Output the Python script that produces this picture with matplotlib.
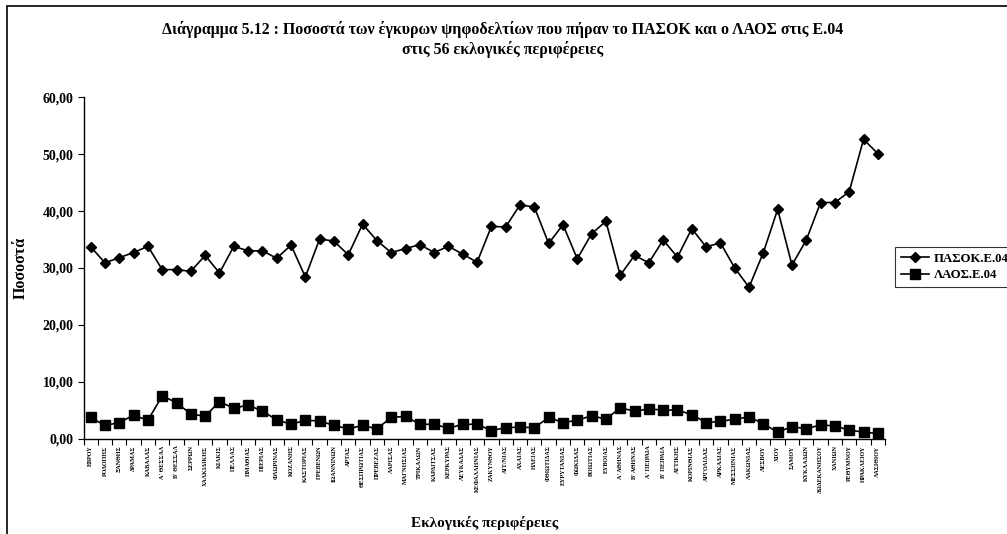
import matplotlib
matplotlib.use("Agg")
import matplotlib.pyplot as plt
from matplotlib.patches import Rectangle
from matplotlib.ticker import FixedLocator, FuncFormatter

regions = ["ΕΒΡΟΥ", "ΡΟΔΟΠΗΣ", "ΞΑΝΘΗΣ", "ΔΡΑΜΑΣ", "ΚΑΒΑΛΑΣ", "Α' ΘΕΣΣΑΛ",
           "Β' ΘΕΣΣΑΛ", "ΣΕΡΡΩΝ", "ΧΑΛΚΙΔΙΚΗΣ", "ΚΙΛΚΙΣ", "ΠΕΛΛΑΣ", "ΗΜΑΘΙΑΣ",
           "ΠΙΕΡΙΑΣ", "ΦΛΩΡΙΝΑΣ", "ΚΟΖΑΝΗΣ", "ΚΑΣΤΟΡΙΑΣ", "ΓΡΕΒΕΝΩΝ", "ΙΩΑΝΝΙΝΩΝ",
           "ΑΡΤΑΣ", "ΘΕΣΠΡΩΤΙΑΣ", "ΠΡΕΒΕΖΑΣ", "ΛΑΡΙΣΑΣ", "ΜΑΓΝΗΣΙΑΣ", "ΤΡΙΚΑΛΩΝ",
           "ΚΑΡΔΙΤΣΑΣ", "ΚΕΡΚΥΡΑΣ", "ΛΕΥΚΑΔΑΣ", "ΚΕΦΑΛΛΗΝΙΑΣ", "ΖΑΚΥΝΘΟΥ",
           "ΑΙΤ/ΝΙΑΣ", "ΑΧΑΙΑΣ", "ΗΛΕΙΑΣ", "ΦΘΙΩΤΙΔΑΣ", "ΕΥΡΥΤΑΝΙΑΣ", "ΦΩΚΙΔΑΣ",
           "ΒΟΙΩΤΙΑΣ", "ΕΥΒΟΙΑΣ", "Α' ΑΘΗΝΑΣ", "Β' ΑΘΗΝΑΣ", "Α' ΠΕΙΡΑΙΑ",
           "Β' ΠΕΙΡΑΙΑ", "ΑΤΤΙΚΗΣ", "ΚΟΡΙΝΘΙΑΣ", "ΑΡΓΟΛΙΔΑΣ", "ΑΡΚΑΔΙΑΣ",
           "ΜΕΣΣΗΝΙΑΣ", "ΛΑΚΩΝΙΑΣ", "ΛΕΣΒΟΥ", "ΧΙΟΥ", "ΣΑΜΟΥ", "ΚΥΚΛΑΔΩΝ",
           "ΔΩΔΕΚΑΝΗΣΟΥ", "ΧΑΝΙΩΝ", "ΡΕΘΥΜΝΟΥ", "ΗΡΑΚΛΕΙΟΥ", "ΛΑΣΙΘΙΟΥ"]

pasok = [33.7, 30.9, 31.8, 32.7, 33.8, 29.7, 29.7, 29.4, 32.2, 29.1,
         33.8, 33.0, 33.0, 31.7, 34.0, 28.4, 35.1, 34.7, 32.3, 37.7,
         34.8, 32.7, 33.4, 34.1, 32.7, 33.8, 32.4, 31.0, 37.3, 37.2,
         41.1, 40.7, 34.3, 37.6, 31.6, 36.0, 38.2, 28.7, 32.2, 30.9,
         34.9, 31.9, 36.9, 33.7, 34.4, 30.0, 26.6, 32.7, 40.3, 30.5,
         34.9, 41.5, 41.5, 43.4, 52.6, 50.1]

laos = [3.7, 2.3, 2.8, 4.1, 3.2, 7.5, 6.3, 4.3, 3.9, 6.5,
        5.3, 5.9, 4.8, 3.3, 2.5, 3.2, 3.1, 2.3, 1.7, 2.3,
        1.7, 3.7, 3.9, 2.5, 2.5, 1.8, 2.5, 2.5, 1.4, 1.9,
        2.0, 1.9, 3.7, 2.8, 3.2, 4.0, 3.4, 5.4, 4.8, 5.2,
        5.0, 5.0, 4.2, 2.8, 3.0, 3.4, 3.8, 2.6, 1.1, 2.1,
        1.7, 2.4, 2.2, 1.5, 1.1, 0.9]

yticks = [0, 10, 20, 30, 40, 50, 60]

serif = ["Liberation Serif", "DejaVu Serif"]
plt.rcParams['font.family'] = serif

W, H = 1007, 534
fig = plt.figure(figsize=(W / 100, H / 100), dpi=100)
fig.patch.set_facecolor("white")

# outer chart frame
fig.patches.append(Rectangle((7 / W, -0.05), 1.2, (H - 6) / H + 0.05,
                             transform=fig.transFigure, fill=False,
                             edgecolor="black", linewidth=1.2))

ax_left, ax_right = 83.5, 885
ax_top, ax_bottom = 97.3, 438.5
ax = fig.add_axes([ax_left / W, 1 - ax_bottom / H,
                   (ax_right - ax_left) / W, (ax_bottom - ax_top) / H])

x = list(range(len(regions)))
l1, = ax.plot(x, pasok, color="black", linewidth=1.2, marker="D",
              markersize=5, label="ΠΑΣΟΚ.Ε.04")
l2, = ax.plot(x, laos, color="black", linewidth=1.2, marker="s",
              markersize=6.5, label="ΛΑΟΣ.Ε.04")

ax.set_xlim(-0.5, len(regions) - 0.5)
ax.set_ylim(0, 60)
ax.spines["top"].set_visible(False)
ax.spines["right"].set_visible(False)
ax.spines["left"].set_linewidth(1.0)
ax.spines["bottom"].set_linewidth(1.0)

ax.set_yticks(yticks)
ax.yaxis.set_major_formatter(FuncFormatter(lambda v, p: f"{v:.2f}".replace(".", ",")))
ax.tick_params(axis="y", direction="out", length=4, width=0.8, pad=3)
for lbl in ax.get_yticklabels():
    lbl.set_fontweight("bold")
    lbl.set_fontsize(10)

ax.xaxis.set_major_locator(FixedLocator([i - 0.5 for i in range(len(regions) + 1)]))
ax.xaxis.set_major_formatter(FuncFormatter(lambda v, p: ""))
ax.xaxis.set_minor_locator(FixedLocator(x))
ax.set_xticklabels(regions, minor=True)
ax.tick_params(axis="x", which="major", direction="out", length=4, width=0.8)
ax.tick_params(axis="x", which="minor", length=0, pad=5)
for lbl in ax.get_xticklabels(minor=True):
    lbl.set_rotation(90)
    lbl.set_fontsize(4.4)
    lbl.set_fontweight("bold")
    lbl.set_va("top")
    lbl.set_ha("center")

ax.set_ylabel("Ποσοστά", fontsize=11.5, fontweight="bold")
ax.yaxis.set_label_coords(-0.068, 0.5)
ax.set_xlabel("Εκλογικές περιφέρειες", fontsize=11, fontweight="bold")
ax.xaxis.set_label_coords(0.5, -(516 - ax_bottom) / (ax_bottom - ax_top))

fig.text(503 / W, 1 - 30 / H, "Διάγραμμα 5.12 : Ποσοστά των έγκυρων ψηφοδελτίων που πήραν το ΠΑΣΟΚ και ο ΛΑΟΣ στις Ε.04",
         ha="center", va="center", fontsize=11.4, fontweight="bold")
fig.text(503 / W, 1 - 50 / H, "στις 56 εκλογικές περιφέρειες",
         ha="center", va="center", fontsize=11.4, fontweight="bold")

leg = fig.legend(handles=[l1, l2], loc="upper left",
                 bbox_to_anchor=(895 / W, 1 - 247 / H),
                 prop={"family": serif, "weight": "bold", "size": 9.2},
                 frameon=True, fancybox=False, edgecolor="black",
                 handlelength=2.2, handletextpad=0.4, borderpad=0.45,
                 labelspacing=0.35, borderaxespad=0)
leg.get_frame().set_linewidth(0.8)

fig.savefig("out.png", dpi=100, facecolor="white")
